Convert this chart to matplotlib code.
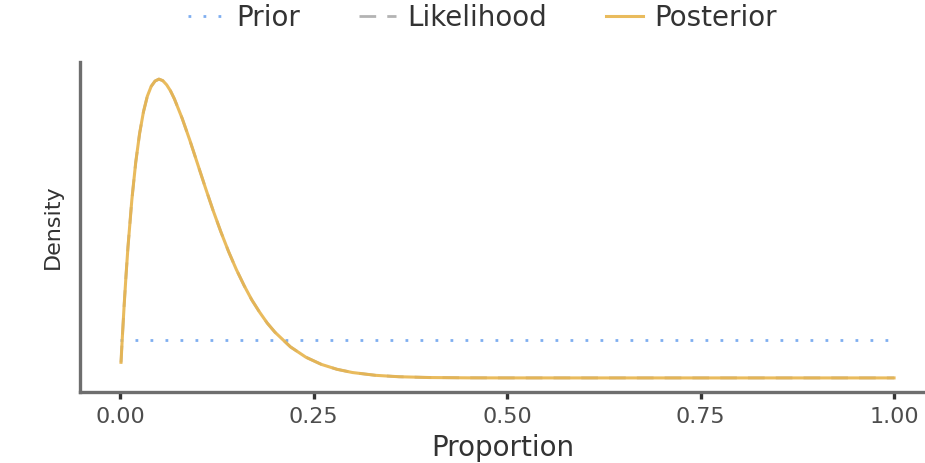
import matplotlib
matplotlib.use("Agg")
import matplotlib.pyplot as plt

# values (density vs proportion)
proportion = [0.001, 0.0025, 0.005, 0.0075, 0.01, 0.015, 0.02, 0.025, 0.03, 0.035,
              0.04, 0.045, 0.05, 0.055, 0.06, 0.065, 0.07, 0.08, 0.09, 0.10,
              0.11, 0.12, 0.13, 0.14, 0.15, 0.16, 0.17, 0.18, 0.19, 0.20,
              0.22, 0.24, 0.26, 0.28, 0.30, 0.33, 0.36, 0.40, 0.45, 0.50,
              0.60, 0.80, 1.00]
posterior = [0.41, 0.99, 1.89, 2.70, 3.44, 4.68, 5.66, 6.42, 6.99, 7.40,
             7.66, 7.80, 7.85, 7.81, 7.70, 7.54, 7.33, 6.82, 6.24, 5.62,
             5.00, 4.40, 3.84, 3.32, 2.85, 2.43, 2.05, 1.73, 1.44, 1.20,
             0.815, 0.543, 0.355, 0.227, 0.142, 0.068, 0.031, 0.010, 0.002, 0.0004,
             0.0, 0.0, 0.0]
likelihood = posterior  # flat prior, so the scaled likelihood sits under the posterior
prior_x = [0.0, 1.0]
prior_y = [1.0, 1.0]

plt.rcParams['font.family'] = ['DejaVu Sans']

fig = plt.figure(figsize=(9.25, 4.63), dpi=100)
ax = fig.add_axes([80 / 925, 71 / 463, 845 / 925, 330 / 463])

ax.plot(prior_x, prior_y, color='#7eaef0', linestyle=(0, (1, 4.4)), linewidth=2.0, label='Prior')
ax.plot(proportion, likelihood, color='#b3b3b3', linestyle=(0, (6, 4)), linewidth=2.0, label='Likelihood')
ax.plot(proportion, posterior, color='#e8b54f', linewidth=2.2, alpha=0.92, label='Posterior')

ax.set_xlim(-0.052, 1.04)
ax.set_ylim(-0.37, 8.30)
ax.set_xticks([0, 0.25, 0.5, 0.75, 1.0])
ax.set_xticklabels(['0.00', '0.25', '0.50', '0.75', '1.00'])
ax.set_yticks([])

for side in ['top', 'right']:
    ax.spines[side].set_visible(False)
for side in ['left', 'bottom']:
    ax.spines[side].set_color('#6e6e6e')
    ax.spines[side].set_linewidth(2.4)

ax.tick_params(axis='x', colors='#333333', labelcolor='#4d4d4d', length=5, width=2.4,
               labelsize=16, pad=6)

ax.set_xlabel('Proportion', fontsize=20, color='#333333', labelpad=5)
ax.set_ylabel('Density', fontsize=16, color='#333333', labelpad=12)

fig.legend(loc='center left', bbox_to_anchor=(163 / 925, 0.962), ncol=3, frameon=False,
           fontsize=20, handlelength=1.35, columnspacing=2.1, handletextpad=0.4,
           labelcolor='#333333')

fig.savefig('out.png', dpi=100)
